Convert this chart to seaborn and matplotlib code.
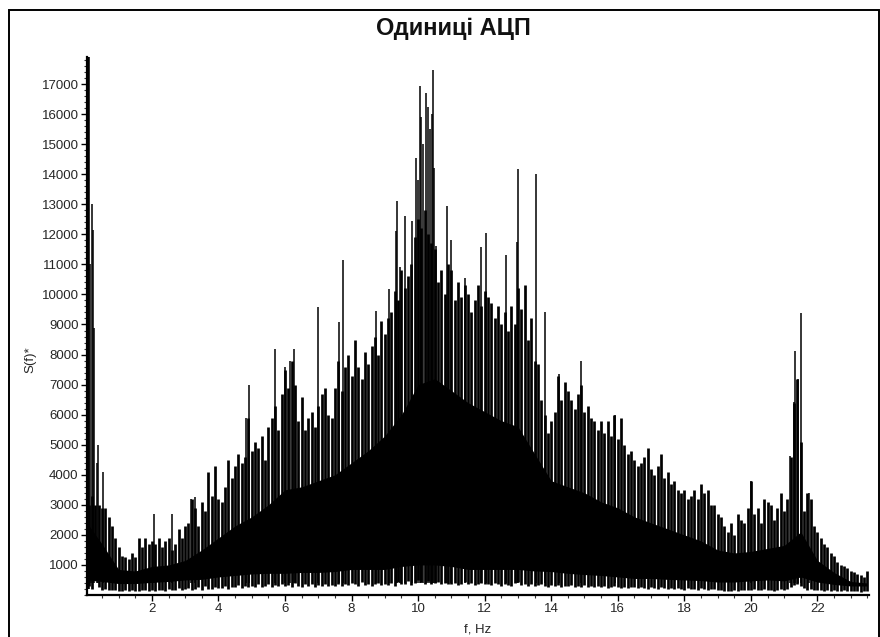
import numpy as np
import matplotlib
matplotlib.use("Agg")
import matplotlib.pyplot as plt
import seaborn as sns
from matplotlib.ticker import MultipleLocator, FixedLocator
from matplotlib.patches import Rectangle

# ---------------- data ----------------
# spectrum bins, 0.1 Hz apart (0.1 ... 23.5 Hz)
freq = np.round(np.arange(1, 236) * 0.1, 1)

# top of the ordinary spikes in each bin
peak = [
    3000, 3300, 3000, 3000, 2900, 2900, 2600, 2300, 1900, 1600,
    1300, 1250, 1200, 1400, 1250, 1900, 1600, 1900, 1700, 1800,
    1700, 1900, 1600, 1800, 1900, 1500, 1700, 2200, 1900, 2300,
    2400, 3200, 2900, 2300, 3100, 2800, 4100, 3300, 4300, 3200,
    3100, 3600, 4500, 3900, 4300, 4700, 4400, 4600, 5900, 4800,
    5100, 4900, 5300, 4500, 5600, 5900, 6300, 5500, 6700, 7500,
    6900, 7800, 7000, 5800, 6600, 5500, 5900, 6100, 5600, 6300,
    6700, 6900, 6000, 5900, 6900, 7800, 6800, 7600, 8000, 7300,
    8500, 7600, 7200, 8100, 7700, 8300, 8600, 8000, 9100, 8700,
    9200, 9400, 10100, 9800, 10800, 10200, 10600, 11000, 11900, 12500,
    12200, 12800, 12000, 11700, 11500, 10400, 10800, 10000, 11000, 10800,
    9800, 10400, 9900, 10300, 10000, 9400, 9800, 10300, 9600, 10100,
    9900, 9700, 9200, 9600, 9000, 9400, 8800, 9600, 9000, 10200,
    9500, 10300, 8500, 9200, 7800, 7700, 6500, 6000, 5400, 5800,
    6100, 7300, 6500, 7100, 6800, 6500, 6200, 6700, 7000, 6100,
    6300, 5900, 5800, 5500, 5800, 5400, 5800, 5300, 6000, 5200,
    5900, 5000, 4700, 4800, 4500, 4300, 4400, 4600, 4900, 4200,
    4000, 4300, 4700, 3900, 4100, 3700, 3800, 3500, 3400, 3500,
    3200, 3300, 3500, 3200, 3700, 3400, 3500, 3000, 3000, 2700,
    2600, 2300, 2100, 2400, 2000, 2700, 2500, 2400, 2900, 3800,
    2700, 2900, 2400, 3200, 3100, 3000, 2500, 2900, 3400, 2800,
    3200, 4600, 6400, 7200, 5100, 2800, 3400, 3200, 2300, 2100,
    1900, 1700, 1600, 1400, 1300, 1100, 1000, 950, 900, 800,
    750, 700, 650, 600, 800,
]

# lower end of the spikes in each bin
trough = [
    300, 200, 700, 250, 150, 200, 180, 150, 160, 140,
    130, 150, 120, 160, 140, 130, 170, 150, 120, 160,
    140, 180, 160, 130, 200, 150, 170, 220, 160, 190,
    230, 170, 200, 250, 180, 300, 210, 190, 260, 220,
    240, 300, 210, 280, 250, 330, 230, 290, 260, 310,
    280, 350, 250, 300, 380, 270, 320, 290, 360, 300,
    340, 280, 400, 310, 250, 370, 300, 350, 280, 330,
    300, 360, 290, 340, 310, 380, 300, 350, 330, 400,
    360, 300, 420, 330, 380, 300, 350, 400, 320, 370,
    330, 390, 300, 420, 350, 380, 450, 340, 400, 500,
    420, 380, 460, 350, 400, 430, 360, 410, 380, 350,
    400, 340, 380, 420, 350, 390, 330, 370, 410, 350,
    380, 330, 400, 360, 310, 370, 340, 300, 390, 420,
    340, 380, 310, 350, 290, 330, 370, 300, 280, 320,
    300, 340, 270, 310, 290, 330, 260, 300, 280, 320,
    270, 300, 250, 290, 260, 310, 240, 280, 300, 260,
    240, 280, 230, 260, 250, 220, 270, 240, 210, 250,
    230, 200, 250, 220, 190, 240, 210, 230, 200, 180,
    220, 190, 210, 170, 230, 200, 180, 210, 190, 160,
    150, 130, 120, 140, 160, 130, 170, 150, 180, 160,
    190, 170, 150, 200, 160, 180, 140, 170, 190, 160,
    200, 260, 320, 380, 300, 220, 180, 200, 170, 150,
    160, 140, 150, 130, 160, 140, 120, 150, 130, 140,
    120, 140, 110, 130, 120,
]

# dense (solid black) band of the spectrum, every 0.5 Hz
band_f = [0.05, 0.5, 1.0, 1.5, 2.0, 2.5, 3.0, 3.5, 4.0, 4.5, 5.0, 5.5, 6.0,
          6.5, 7.0, 7.5, 8.0, 8.5, 9.0, 9.5, 10.0, 10.5, 11.0, 11.5, 12.0,
          12.5, 13.0, 13.5, 14.0, 14.5, 15.0, 15.5, 16.0, 16.5, 17.0, 17.5,
          18.0, 18.5, 19.0, 19.5, 20.0, 20.5, 21.0, 21.5, 22.0, 22.5, 23.0,
          23.5]
band_top = [2400, 1700, 850, 800, 950, 1000, 1150, 1500, 1900, 2300, 2600,
            3000, 3500, 3600, 3800, 4000, 4400, 4800, 5300, 6000, 7000, 7200,
            6800, 6400, 6100, 5800, 5600, 4700, 3800, 3600, 3400, 3100, 2900,
            2600, 2400, 2200, 2000, 1800, 1500, 1400, 1450, 1550, 1650, 2100,
            1150, 750, 450, 400]
band_bottom = [500, 450, 380, 380, 420, 450, 500, 520, 600, 650, 700, 720,
               720, 750, 750, 780, 850, 850, 850, 950, 1000, 1000, 950,
               850, 850, 850, 850, 800, 780, 720, 680, 650, 600, 550, 550,
               520, 500, 480, 430, 430, 470, 500, 470, 600, 430, 350, 300, 300]

# prominent single spikes
spike_f = [0.07, 0.15, 0.19, 0.23, 0.27, 0.35, 0.38, 0.53, 2.07, 2.59, 3.17,
           3.29, 4.84, 4.92, 5.69, 6.01, 6.16, 6.27, 6.99, 7.62, 7.73, 8.73,
           9.12, 9.33, 9.36, 9.47, 9.60, 9.83, 9.93, 10.00, 10.05, 10.10,
           10.15, 10.25, 10.30, 10.35, 10.42, 10.45, 10.48, 10.55, 10.87,
           11.00, 11.40, 11.88, 12.05, 12.63, 12.98, 13.01, 13.55, 13.80,
           14.23, 14.91, 15.92, 20.00, 21.18, 21.29, 21.33, 21.43, 21.51,
           21.74]
spike_v = [17900, 11000, 13000, 12150, 8900, 4400, 5000, 4100, 2700, 2700,
           3200, 3250, 5900, 7000, 8200, 7600, 7800, 8200, 9570, 9090, 11140,
           9450, 10170, 12100, 13100, 10900, 12600, 12450, 14550, 13800,
           16940, 15900, 15000, 16700, 16250, 15500, 16000, 17460, 14200,
           11600, 12950, 11800, 10560, 11570, 12050, 11300, 11740, 14170,
           14000, 9430, 7350, 7800, 6000, 3800, 4610, 6420, 8120, 7200, 9370,
           3390]

x_ticks = [2, 4, 6, 8, 10, 12, 14, 16, 18, 20, 22]
y_ticks = [1000, 2000, 3000, 4000, 5000, 6000, 7000, 8000, 9000, 10000,
           11000, 12000, 13000, 14000, 15000, 16000, 17000]

title = "Одиниці АЦП"
x_label = "f, Hz"
y_label = "S(f)*"

# ---------------- drawing ----------------
sns.set_theme(style="white")
plt.rcParams["font.family"] = ["Liberation Sans", "DejaVu Sans"]

W, H = 880, 637
fig = plt.figure(figsize=(W / 100, H / 100), dpi=100)
ax = fig.add_axes([87 / W, (H - 595) / H, (869 - 87) / W, (595 - 57) / H])

ax.fill_between(band_f, band_bottom, band_top, color="black", lw=0)
ax.vlines(freq, trough, peak, color="black", lw=1.95)
ax.vlines(spike_f[1:], 400, spike_v[1:], color="black", lw=1.1)
ax.vlines(spike_f[:1], 200, spike_v[:1], color="black", lw=2.6)

ax.set_xlim(0.05, 23.55)
ax.set_ylim(0, 17900)

sns.despine(ax=ax)
for s in ("left", "bottom"):
    ax.spines[s].set_color("black")
    ax.spines[s].set_linewidth(1.6)

ax.xaxis.set_major_locator(FixedLocator(x_ticks))
ax.xaxis.set_minor_locator(MultipleLocator(0.5))
ax.yaxis.set_major_locator(FixedLocator(y_ticks))
ax.yaxis.set_minor_locator(MultipleLocator(200))
ax.tick_params(axis="both", which="major", direction="out", length=4,
               width=1, color="black", labelsize=9.5, labelcolor="#262626",
               left=True, bottom=True, pad=2)
ax.tick_params(axis="both", which="minor", direction="out", length=2.2,
               width=0.8, color="#333333", left=True, bottom=True)

fig.text(453 / W, (H - 29) / H, title, ha="center", va="center",
         fontsize=17, fontweight="bold", color="#111111")
fig.text(478 / W, (H - 629) / H, x_label, ha="center", va="center",
         fontsize=9.5, color="#262626")
fig.text(30 / W, (H - 360) / H, y_label, ha="center", va="center",
         rotation=90, fontsize=9.5, color="#262626")

# outer frame
fig.patches.append(Rectangle((9 / W, -0.02), (879 - 9) / W, (H - 10) / H + 0.02,
                             transform=fig.transFigure, fill=False,
                             edgecolor="black", lw=1.4, clip_on=False))

fig.savefig("out.png", dpi=100, facecolor="white")
